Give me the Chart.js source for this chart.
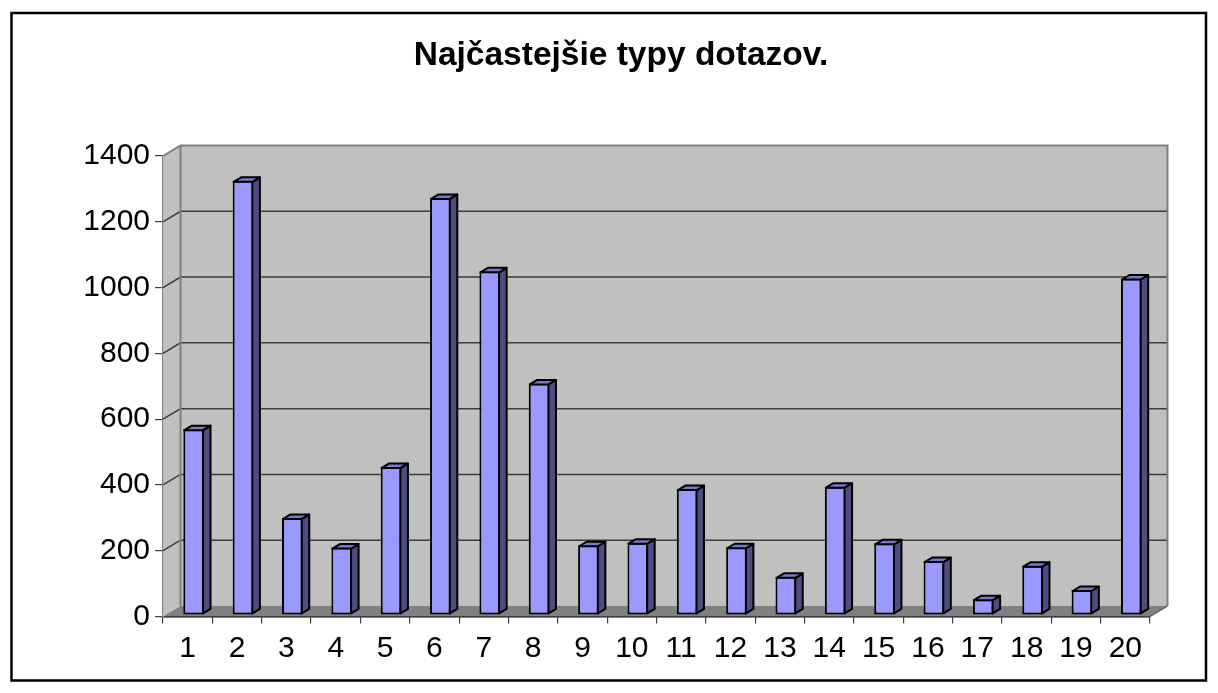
<!DOCTYPE html>
<html>
<head>
<meta charset="utf-8">
<title>Najčastejšie typy dotazov.</title>
<script src="https://cdn.jsdelivr.net/npm/chart.js@4.4.1/dist/chart.umd.min.js"></script>
<style>
  html, body { margin: 0; padding: 0; background: #fff; }
  #obal { position: relative; width: 1218px; height: 693px; }
</style>
</head>
<body>
<div id="obal"><canvas id="graf" width="1218" height="693"></canvas></div>
<script>
// Dáta grafu (odčítané z obrázka)
const kategorie = ['1', '2', '3', '4', '5', '6', '7', '8', '9', '10',
  '11', '12', '13', '14', '15', '16', '17', '18', '19', '20'];
const pocty = [565, 1320, 295, 205, 450, 1268, 1045, 704, 212, 220,
  383, 206, 116, 390, 218, 164, 48, 150, 76, 1023];
const osY = { min: 0, max: 1400, krok: 200 };
const nadpis = 'Najčastejšie typy dotazov.';

const FARBY = {
  stlpec: '#9999FF',
  bok: '#4D4D80',
  vrch: '#7777CC',
  stena: '#C0C0C0',
  podlaha: '#808080',
  okraj: '#808080',
  mriezka: '#3C3C3C'
};
const PISMO = "'Liberation Sans', Arial, sans-serif";

// hĺbka 3D steny a stĺpcov
const HLBKA = { dx: 17.5, dy: -10.5 };
const STLPEC_HLBKA = { dx: 7.5, dy: -4.5 };
const POSUN = { dx: 6, dy: -1.5 };

// Rám okolo celého grafu + posun nadpisu nad stred grafu
const ram = {
  id: 'ram',
  afterLayout(chart) {
    const t = chart.titleBlock;
    if (t) { t.left += 6; t.right += 6; }
  },
  beforeDraw(chart) {
    const c = chart.ctx;
    c.save();
    c.fillStyle = '#fff';
    c.fillRect(0, 0, chart.width, chart.height);
    c.restore();
  },
  afterDraw(chart) {
    const c = chart.ctx;
    c.save();
    c.strokeStyle = '#000';
    c.lineWidth = 2.5;
    c.strokeRect(11.5, 13, 1194.5, 667.5);
    c.restore();
  }
};

// Zadná stena, bočná stena, podlaha a mriežka
const steny = {
  id: 'steny',
  beforeDatasetsDraw(chart) {
    const c = chart.ctx;
    const a = chart.chartArea;
    const y = chart.scales.y;
    const { dx, dy } = HLBKA;
    c.save();
    // zadná stena
    c.fillStyle = FARBY.stena;
    c.fillRect(a.left + dx, a.top + dy, a.right - a.left, a.bottom - a.top);
    // bočná stena
    c.beginPath();
    c.moveTo(a.left, a.top);
    c.lineTo(a.left + dx, a.top + dy);
    c.lineTo(a.left + dx, a.bottom + dy);
    c.lineTo(a.left, a.bottom);
    c.closePath();
    c.fill();
    // podlaha
    c.fillStyle = FARBY.podlaha;
    c.beginPath();
    c.moveTo(a.left, a.bottom);
    c.lineTo(a.left + dx, a.bottom + dy);
    c.lineTo(a.right + dx, a.bottom + dy);
    c.lineTo(a.right, a.bottom);
    c.closePath();
    c.fill();
    // mriežka
    c.lineWidth = 1.5;
    c.strokeStyle = FARBY.mriezka;
    y.ticks.forEach(t => {
      if (t.value <= osY.min || t.value >= osY.max) return;
      const py = y.getPixelForValue(t.value);
      c.beginPath();
      c.moveTo(a.left, py);
      c.lineTo(a.left + dx, py + dy);
      c.lineTo(a.right + dx, py + dy);
      c.stroke();
    });
    // obrysy stien
    c.strokeStyle = FARBY.okraj;
    c.lineWidth = 2;
    c.beginPath();
    c.moveTo(a.left, a.top);
    c.lineTo(a.left + dx, a.top + dy);
    c.lineTo(a.right + dx, a.top + dy);
    c.lineTo(a.right + dx, a.bottom + dy);
    c.moveTo(a.left + dx, a.top + dy);
    c.lineTo(a.left + dx, a.bottom + dy);
    c.stroke();
    c.strokeStyle = '#555';
    c.lineWidth = 1.2;
    c.beginPath();
    c.moveTo(a.right, a.bottom);
    c.lineTo(a.right + dx, a.bottom + dy);
    c.stroke();
    // posun stĺpcov do hĺbky
    c.restore();
    c.save();
    c.translate(POSUN.dx, POSUN.dy);
  },
  afterDatasetsDraw(chart) {
    const c = chart.ctx;
    const { dx, dy } = STLPEC_HLBKA;
    chart.getDatasetMeta(0).data.forEach(bar => {
      const p = bar.getProps(['x', 'y', 'base', 'width'], true);
      const l = p.x - p.width / 2 + 1;
      const r = p.x + p.width / 2 - 1;
      const t = p.y + 1;
      const b = p.base - 1;
      c.lineWidth = 2;
      c.strokeStyle = '#000';
      c.lineJoin = 'round';
      // bok
      c.fillStyle = FARBY.bok;
      c.beginPath();
      c.moveTo(r, t);
      c.lineTo(r + dx, t + dy);
      c.lineTo(r + dx, b + dy);
      c.lineTo(r, b);
      c.closePath();
      c.fill();
      c.stroke();
      // vrch
      c.fillStyle = FARBY.vrch;
      c.beginPath();
      c.moveTo(l, t);
      c.lineTo(l + dx, t + dy);
      c.lineTo(r + dx, t + dy);
      c.lineTo(r, t);
      c.closePath();
      c.fill();
      c.stroke();
    });
    c.restore();
  }
};

new Chart(document.getElementById('graf').getContext('2d'), {
  type: 'bar',
  data: {
    labels: kategorie,
    datasets: [{
      data: pocty,
      backgroundColor: FARBY.stlpec,
      borderColor: '#000',
      borderWidth: 2,
      borderSkipped: false,
      categoryPercentage: 1,
      barPercentage: 0.42
    }]
  },
  options: {
    responsive: false,
    animation: false,
    layout: { padding: { left: 80, right: 68, top: 0, bottom: 0 } },
    plugins: {
      legend: { display: false },
      tooltip: { enabled: false },
      title: {
        display: true,
        text: nadpis,
        color: '#000',
        font: { family: PISMO, size: 33.5, weight: 'bold', lineHeight: 1.2 },
        padding: { top: 36, bottom: 79.8 }
      }
    },
    scales: {
      x: {
        afterFit: (s) => { s.height = 76.5; },
        grid: {
          offset: true,
          drawOnChartArea: false,
          drawTicks: true,
          tickLength: 7,
          color: '#404040',
          lineWidth: 1.2
        },
        border: { display: true, color: '#000', width: 1.5 },
        ticks: {
          color: '#000',
          padding: 7,
          maxRotation: 0,
          autoSkip: false,
          font: { family: PISMO, size: 30 }
        }
      },
      y: {
        min: osY.min,
        max: osY.max,
        afterFit: (s) => { s.width = 83; },
        grid: {
          drawOnChartArea: false,
          drawTicks: true,
          tickLength: 8,
          color: '#404040',
          lineWidth: 1.2
        },
        border: { display: true, color: FARBY.okraj, width: 2 },
        ticks: {
          stepSize: osY.krok,
          color: '#000',
          padding: 5,
          font: { family: PISMO, size: 30 },
          callback: (hodnota) => String(hodnota)
        }
      }
    }
  },
  plugins: [ram, steny]
});
</script>
</body>
</html>
